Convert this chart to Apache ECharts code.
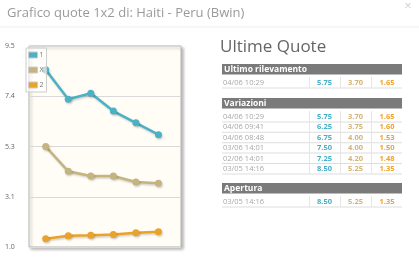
<!DOCTYPE html>
<html><head><meta charset="utf-8">
<script src="https://cdn.jsdelivr.net/npm/echarts@6/dist/echarts.min.js"></script>
<style>html,body{margin:0;padding:0;background:#fff}#c{width:419px;height:261px}</style>
</head><body><div id="c"></div>
<script>
// ---- data ----
const chartTitle = 'Grafico quote 1x2 di: Haiti - Peru (Bwin)';
const panelTitle = 'Ultime Quote';
const seriesNames = ['1', 'X', '2'];
const yMin = 1.0, yMax = 9.5, yStep = 2.125;
const sectionLast = 'Ultimo rilevamento';
const sectionVar = 'Variazioni';
const sectionOpen = 'Apertura';
const lastTimes = ['04/06 10:29'];
const last1 = [5.75], lastX = [3.70], last2 = [1.65];
const varTimes = ['04/06 10:29', '04/06 09:41', '04/06 08:48', '03/06 14:01', '02/06 14:01', '03/05 14:16'];
const var1 = [5.75, 6.25, 6.75, 7.50, 7.25, 8.50];
const varX = [3.70, 3.75, 4.00, 4.00, 4.20, 5.25];
const var2 = [1.65, 1.60, 1.53, 1.50, 1.48, 1.35];
const openTimes = ['03/05 14:16'];
const open1 = [8.50], openX = [5.25], open2 = [1.35];

// ---- styling ----
const lineColors = ['#4bb2c5', '#c5b47f', '#eaa228'];
const valueColors = ['#46afc6', '#d2b477', '#f0a22c'];
const FF = '"Open Sans", sans-serif';

// chronological order for chart
const chrono = arr => arr.slice().reverse();
const seriesData = [chrono(var1), chrono(varX), chrono(var2)];

const chart = echarts.init(document.getElementById('c'), null, {renderer: 'canvas'});

// table graphic
const g = [];
g.push({type: 'text', style: {text: chartTitle, x: 7, y: 13, fill: '#9a9a9a', fontSize: 13, fontFamily: FF, verticalAlign: 'middle'}});
g.push({type: 'text', style: {text: '×', x: 408, y: 6, fill: '#cfcfcf', fontSize: 13, fontFamily: FF, align: 'center', verticalAlign: 'middle'}});
g.push({type: 'rect', shape: {x: 0, y: 26.5, width: 419, height: 1}, style: {fill: '#eeeeee'}});
g.push({type: 'text', style: {text: panelTitle, x: 220, y: 47, fill: '#666', fontSize: 17, fontFamily: FF, verticalAlign: 'middle'}});

const TL = 222, TR = 402, seps = [309, 340, 371], centers = [324.5, 355.5, 387];
const HH = 10.5, RH = 10.4, PAD = 2.5;
function section(top, title, times, c1, cx, c2) {
  g.push({type: 'rect', shape: {x: TL, y: top, width: TR - TL, height: HH}, style: {fill: '#7a7a7a'}});
  g.push({type: 'text', style: {text: title, x: TL + 2, y: top + HH / 2 + 0.5, fill: '#fff', fontSize: 8.5, fontWeight: 'bold', fontFamily: FF, verticalAlign: 'middle'}});
  let y = top + HH + PAD;
  times.forEach((t, i) => {
    const vals = [c1[i], cx[i], c2[i]];
    g.push({type: 'text', style: {text: t, x: TL + 1, y: y + 5.8, fill: '#a8a8a8', fontSize: 7.5, fontFamily: FF, verticalAlign: 'middle'}});
    vals.forEach((v, k) => {
      g.push({type: 'text', style: {text: v.toFixed(2), x: centers[k], y: y + 5.8, fill: valueColors[k], fontSize: 7.5, fontWeight: 'bold', fontFamily: FF, align: 'center', verticalAlign: 'middle'}});
    });
    seps.forEach(sx => g.push({type: 'rect', shape: {x: sx, y: y, width: 1, height: RH}, style: {fill: '#e6e6e6'}}));
    g.push({type: 'rect', shape: {x: TL, y: y + RH, width: TR - TL, height: 1}, style: {fill: '#dddddd'}});
    y += RH;
  });
  return y;
}
section(64, sectionLast, lastTimes, last1, lastX, last2);
section(98, sectionVar, varTimes, var1, varX, var2);
section(183, sectionOpen, openTimes, open1, openX, open2);

chart.setOption({
  animation: false,
  backgroundColor: '#fff',
  graphic: g,
  grid: {
    show: true, left: 29, right: 238, top: 46, bottom: 14,
    backgroundColor: '#fffdf6', borderColor: '#b5b5b5', borderWidth: 1,
    shadowColor: 'rgba(0,0,0,0.28)', shadowBlur: 3, shadowOffsetX: 2, shadowOffsetY: 2
  },
  legend: {
    data: seriesNames, orient: 'vertical', left: 26, top: 48,
    itemWidth: 9, itemHeight: 6, itemGap: 7, padding: [3, 3, 3, 2],
    borderColor: '#cccccc', borderWidth: 1, backgroundColor: 'rgba(255,255,255,0.6)',
    icon: 'rect', itemStyle: {borderColor: '#cccccc', borderWidth: 1},
    textStyle: {fontSize: 7, color: '#777', fontFamily: FF, lineHeight: 8, padding: [0, 0, 0, -3]}
  },
  xAxis: {type: 'value', min: -0.74, max: 6.0, show: false},
  yAxis: {
    type: 'value', min: yMin, max: yMax, interval: yStep,
    axisLine: {show: false}, axisTick: {show: false},
    axisLabel: {formatter: v => v.toFixed(1), align: 'left', margin: 24, fontSize: 7, color: '#666', fontFamily: FF},
    splitLine: {lineStyle: {color: '#d9d9d9', width: 1}}
  },
  series: seriesNames.map((n, s) => ({
    name: n, type: 'line', color: lineColors[s],
    data: seriesData[s].map((v, i) => [i, v]),
    symbol: 'circle', symbolSize: 7,
    lineStyle: {width: 2.5, shadowColor: 'rgba(0,0,0,0.18)', shadowBlur: 2, shadowOffsetX: 1, shadowOffsetY: 1.5},
    itemStyle: {shadowColor: 'rgba(0,0,0,0.18)', shadowBlur: 2, shadowOffsetX: 1, shadowOffsetY: 1.5}
  }))
});
</script></body></html>
